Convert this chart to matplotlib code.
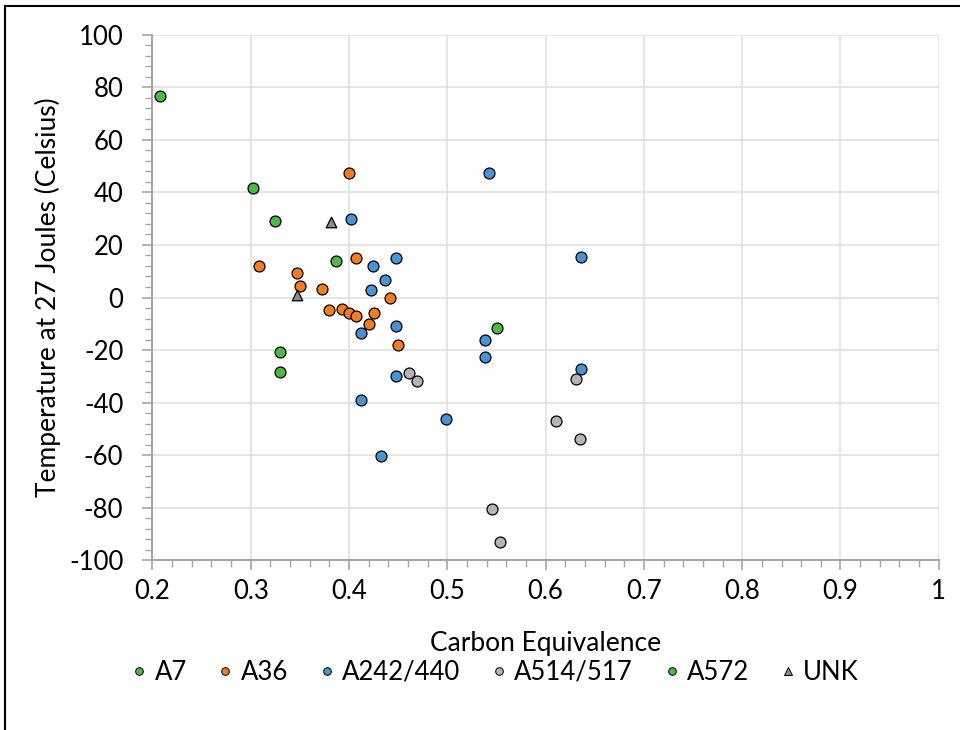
import matplotlib
matplotlib.use("Agg")
import matplotlib.pyplot as plt
from matplotlib.ticker import MultipleLocator, FuncFormatter
from matplotlib.lines import Line2D

plt.rcParams['font.family'] = ['Lato', 'DejaVu Sans']
plt.rcParams['axes.unicode_minus'] = False

# Data (Carbon Equivalence, Temperature at 27 J)
a7_x = [0.208, 0.302, 0.325, 0.330, 0.330]
a7_y = [76.7, 41.5, 29.2, -20.6, -28.5]

a36_x = [0.400, 0.308, 0.347, 0.350, 0.372, 0.407, 0.442, 0.380, 0.393, 0.400,
         0.407, 0.425, 0.420, 0.450]
a36_y = [47.3, 12.1, 9.2, 4.5, 3.4, 15.1, -0.3, -4.6, -4.5, -5.8,
         -7.0, -5.9, -10.1, -18.1]

a242_x = [0.402, 0.424, 0.448, 0.437, 0.422, 0.448, 0.412, 0.448, 0.412, 0.433,
          0.499, 0.542, 0.636, 0.538, 0.538, 0.636]
a242_y = [30.0, 11.9, 15.1, 6.8, 2.7, -10.7, -13.4, -29.7, -39.0, -60.4,
          -46.2, 47.3, 15.4, -16.0, -22.7, -27.1]

a514_x = [0.461, 0.469, 0.631, 0.611, 0.635, 0.545, 0.554]
a514_y = [-28.7, -31.7, -31.0, -47.1, -53.9, -80.5, -93.0]

a572_x = [0.387, 0.551]
a572_y = [14.0, -11.6]

unk_x = [0.382, 0.347]
unk_y = [28.8, 1.0]

series = [
    ("A7", a7_x, a7_y, "#4DB848", "o"),
    ("A36", a36_x, a36_y, "#F07D22", "o"),
    ("A242/440", a242_x, a242_y, "#4A92D3", "o"),
    ("A514/517", a514_x, a514_y, "#B4B4B4", "o"),
    ("A572", a572_x, a572_y, "#4DB848", "o"),
    ("UNK", unk_x, unk_y, "#8C8C8C", "^"),
]

fig = plt.figure(figsize=(9.6, 7.3), dpi=100)
ax = fig.add_axes([0.1588, 0.2322, 0.8191, 0.7205])

for name, xs, ys, col, mk in series:
    ax.scatter(xs, ys, s=62 if mk == "o" else 58, c=col, marker=mk,
               edgecolors="black", linewidths=0.9, zorder=3)

ax.set_xlim(0.2, 1.0)
ax.set_ylim(-100, 100)
ax.xaxis.set_major_locator(MultipleLocator(0.1))
ax.xaxis.set_minor_locator(MultipleLocator(0.02))
ax.yaxis.set_major_locator(MultipleLocator(20))
ax.yaxis.set_minor_locator(MultipleLocator(4))
ax.xaxis.set_major_formatter(FuncFormatter(lambda v, p: "1" if abs(v - 1) < 1e-9 else f"{v:.1f}"))

ax.grid(which="major", color="#E0E0E0", linewidth=1.2, zorder=0)
for s in ["top", "right"]:
    ax.spines[s].set_visible(False)
for s in ["left", "bottom"]:
    ax.spines[s].set_color("#A6A6A6")
    ax.spines[s].set_linewidth(1.5)
ax.tick_params(which="major", length=7, width=1.2, color="#A6A6A6",
               labelsize=18.5, labelcolor="black")
ax.tick_params(axis="x", which="major", pad=6)
ax.tick_params(axis="y", which="major", pad=14)
ax.tick_params(which="minor", length=4.8, width=1.0, color="#A6A6A6")

ax.set_xlabel("Carbon Equivalence", fontsize=19, labelpad=20)
ax.set_ylabel("Temperature at 27 Joules (Celsius)", fontsize=19, labelpad=6)

handles = [Line2D([0], [0], linestyle="none", marker=mk, markersize=5.5,
                  markerfacecolor=col, markeredgecolor="black", markeredgewidth=0.7)
           for _, _, _, col, mk in series]
labels = [s[0] for s in series]
fig.legend(handles, labels, loc="center", bbox_to_anchor=(0.513, 0.079), ncol=6,
           frameon=False, fontsize=18.5, handletextpad=0.1, columnspacing=1.0,
           handlelength=1.0)

# figure border (left and top)
fig.add_artist(Line2D([0.0052, 0.0052], [0.0, 0.992], color="black", linewidth=1.5,
                      transform=fig.transFigure))
fig.add_artist(Line2D([0.0052, 1.0], [0.992, 0.992], color="black", linewidth=1.5,
                      transform=fig.transFigure))

fig.savefig("out.png", dpi=100)
